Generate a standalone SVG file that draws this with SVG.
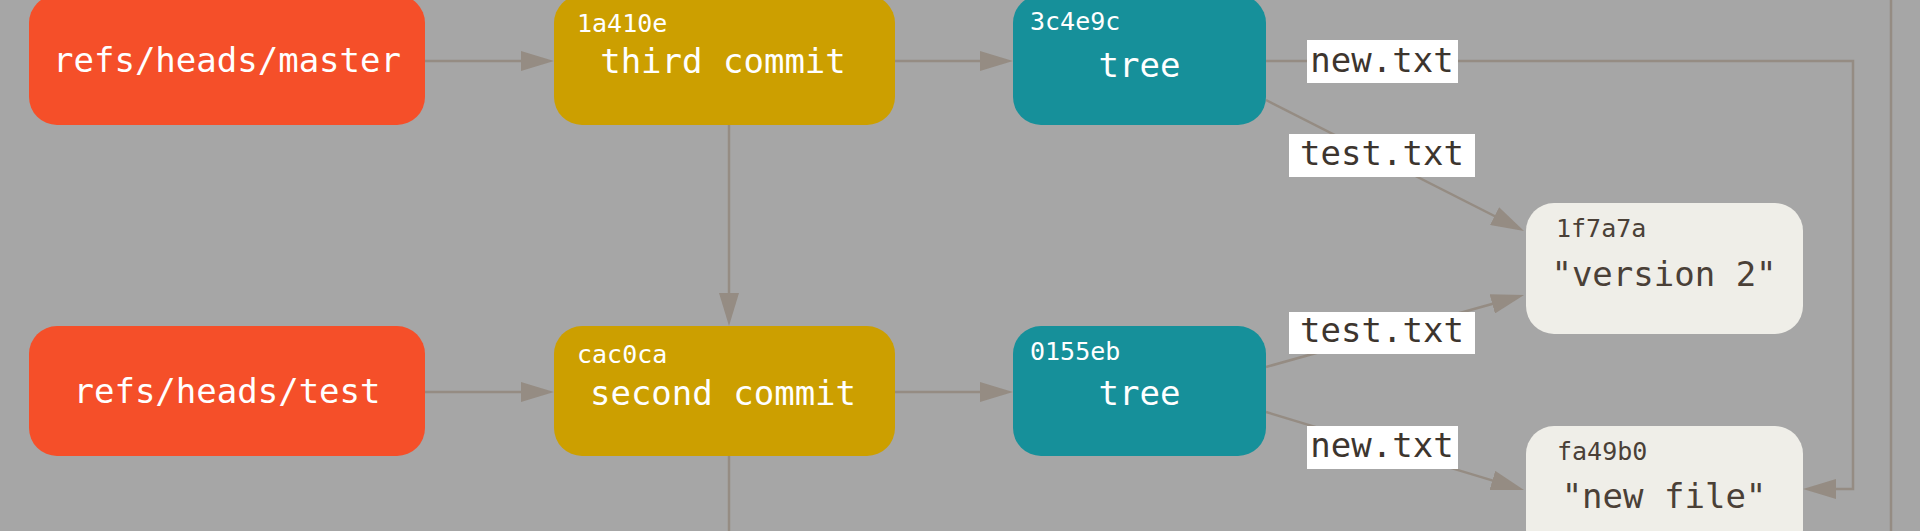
<svg xmlns="http://www.w3.org/2000/svg" width="1920" height="531" viewBox="0 0 1920 531">
<defs>
<marker id="arr" viewBox="0 0 33 20" refX="23" refY="10" markerWidth="33" markerHeight="20" markerUnits="userSpaceOnUse" orient="auto">
<path d="M0,0 L33,10 L0,20 Z" fill="#958c83"/>
</marker>
<style>
.ref{fill:#f54f29}
.commit{fill:#cc9f00}
.tree{fill:#16909a}
.blob{fill:#efeee8}
.t{font-family:"DejaVu Sans Mono","Liberation Mono",monospace;font-size:34px;fill:#ffffff}
.h{font-family:"DejaVu Sans Mono","Liberation Mono",monospace;font-size:25px;fill:#ffffff}
.bt{font-family:"DejaVu Sans Mono","Liberation Mono",monospace;font-size:34px;fill:#4a4037}
.bh{font-family:"DejaVu Sans Mono","Liberation Mono",monospace;font-size:25px;fill:#4a4037}
.lbl rect{fill:#ffffff}
.lbl text{font-family:"DejaVu Sans Mono","Liberation Mono",monospace;font-size:34px;fill:#3d352e;text-anchor:middle}
.e{fill:none;stroke:#958c83;stroke-width:2.5}
.m{text-anchor:middle}
</style>
</defs>
<rect x="0" y="0" width="1920" height="531" fill="#a6a6a6"/>
<line x1="1891" y1="0" x2="1891" y2="531" stroke="#958c83" stroke-width="2.5"/>

<g id="connectors">
<path class="e" d="M425,61 H544" marker-end="url(#arr)"/>
<path class="e" d="M895,61 H1003" marker-end="url(#arr)"/>
<path class="e" d="M425,392 H544" marker-end="url(#arr)"/>
<path class="e" d="M895,392 H1003" marker-end="url(#arr)"/>
<path class="e" d="M729,125 V316" marker-end="url(#arr)"/>
<path class="e" d="M729,456 V531"/>
<path class="e" d="M1266,61 H1853 V489 H1813" marker-end="url(#arr)"/>
<path class="e" d="M1266,100 L1515.1,226.5" marker-end="url(#arr)"/>
<path class="e" d="M1266,367 L1514.4,297.7" marker-end="url(#arr)"/>
<path class="e" d="M1266,412 L1514.4,487.1" marker-end="url(#arr)"/>
<g class="lbl" id="lbl-new1"><rect x="1307" y="40" width="151" height="43"/><text x="1382" y="72">new.txt</text></g>
<g class="lbl" id="lbl-test1"><rect x="1289" y="134" width="186" height="43"/><text x="1382" y="165">test.txt</text></g>
<g class="lbl" id="lbl-test2"><rect x="1289" y="312" width="186" height="42"/><text x="1382" y="342">test.txt</text></g>
<g class="lbl" id="lbl-new2"><rect x="1307" y="426" width="151" height="43"/><text x="1382" y="457">new.txt</text></g>
</g>

<g id="ref-master">
<rect class="ref" x="29" y="-5" width="396" height="130" rx="28" ry="28"/>
<text class="t m" x="227" y="72">refs/heads/master</text>
</g>
<g id="ref-test">
<rect class="ref" x="29" y="326" width="396" height="130" rx="28" ry="28"/>
<text class="t m" x="227" y="403">refs/heads/test</text>
</g>
<g id="commit-1a410e">
<rect class="commit" x="554" y="-5" width="341" height="130" rx="28" ry="28"/>
<text class="h" x="577" y="32">1a410e</text>
<text class="t m" x="723" y="73">third commit</text>
</g>
<g id="commit-cac0ca">
<rect class="commit" x="554" y="326" width="341" height="130" rx="28" ry="28"/>
<text class="h" x="577" y="363">cac0ca</text>
<text class="t m" x="723" y="405">second commit</text>
</g>
<g id="tree-3c4e9c">
<rect class="tree" x="1013" y="-5" width="253" height="130" rx="28" ry="28"/>
<text class="h" x="1030" y="30">3c4e9c</text>
<text class="t m" x="1139.5" y="77">tree</text>
</g>
<g id="tree-0155eb">
<rect class="tree" x="1013" y="326" width="253" height="130" rx="28" ry="28"/>
<text class="h" x="1030" y="360">0155eb</text>
<text class="t m" x="1139.5" y="405">tree</text>
</g>
<g id="blob-1f7a7a">
<rect class="blob" x="1526" y="203" width="277" height="131" rx="28" ry="28"/>
<text class="bh" x="1556" y="237">1f7a7a</text>
<text class="bt m" x="1664" y="286">"version 2"</text>
</g>
<g id="blob-fa49b0">
<rect class="blob" x="1526" y="426" width="277" height="131" rx="28" ry="28"/>
<text class="bh" x="1557" y="460">fa49b0</text>
<text class="bt m" x="1664" y="508">"new file"</text>
</g>
</svg>
